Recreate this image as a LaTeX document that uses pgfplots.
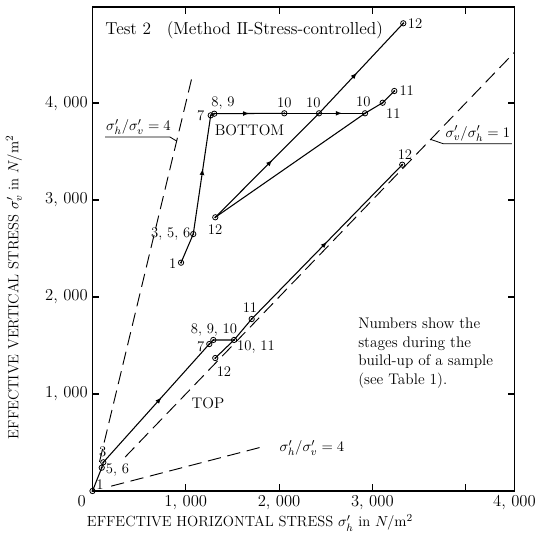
\documentclass[border=0pt]{standalone}
\usepackage{pgfplots}
\pgfplotsset{compat=1.18}
\usetikzlibrary{decorations.markings}

\tikzset{
  midarrow/.style={postaction={decorate},
    decoration={markings, mark=at position #1 with {\arrow[scale=0.9]{latex}}}},
  midarrow/.default=0.5,
  dashlong/.style={line width=0.7pt, dash pattern=on 10pt off 5pt},
}
\newcommand{\lab}{\fontsize{11}{13}\selectfont}

\begin{document}
\begin{tikzpicture}
\useasboundingbox (-69.375pt,-35.25pt) rectangle (343.875pt,368.25pt);
\begin{axis}[
  scale only axis,
  width=316.5pt, height=363pt,
  xmin=0, xmax=4523, ymin=0, ymax=4990,
  clip=false,
  axis line style={line width=1.2pt},
  tick pos=both,
  tick align=inside,
  major tick length=5pt,
  every tick/.style={black, line width=0.8pt},
  xtick={1000,2000,3000,4000},
  xticklabels={{1, 000},{2, 000},{3, 000},{}},
  ytick={1000,2000,3000,4000},
  yticklabels={{1, 000},{2, 000},{3, 000},{4, 000}},
  tick label style={font=\fontsize{12.5}{14}\selectfont},
]
% reference lines
\addplot[black, dashlong] coordinates {(350,350) (4523,4523)};
\addplot[black, dashlong] coordinates {(75,300) (1070,4280)};
\addplot[black, dashlong] coordinates {(200,50) (1800,450)};
% leaders of the ratio labels
\addplot[black, line width=0.6pt] coordinates {(134,3649) (831,3649) (902,3608)};
\addplot[black, line width=0.6pt] coordinates {(3625,3625) (3760,3580) (4496,3580)};

% BOTTOM
\addplot[black, line width=0.8pt] coordinates {(949,2354) (1080,2649)};
\addplot[black, line width=0.8pt, midarrow=0.55] coordinates {(1080,2649) (1267,3873)};
\addplot[black, line width=0.8pt] coordinates {(1267,3873) (1305,3890)};
\addplot[black, line width=0.8pt, midarrow=0.5] coordinates {(1305,3890) (2056,3894)};
\addplot[black, line width=0.8pt] coordinates {(2056,3894) (2428,3894)};
\addplot[black, line width=0.8pt, midarrow=0.5] coordinates {(2428,3894) (2921,3894)};
\addplot[black, line width=0.8pt] coordinates {(2921,3894) (3110,4003) (3235,4124)};
\addplot[black, line width=0.8pt] coordinates {(1316,2822) (2921,3894)};
\addplot[black, line width=0.8pt, midarrow=0.55] coordinates {(1316,2822) (2428,3894)};
\addplot[black, line width=0.8pt, midarrow=0.45] coordinates {(2428,3894) (3331,4822)};

% TOP
\addplot[black, line width=0.8pt] coordinates {(0,0) (99,240) (116,296)};
\addplot[black, line width=0.8pt, midarrow=0.55] coordinates {(116,296) (1252,1515)};
\addplot[black, line width=0.8pt] coordinates {(1252,1515) (1295,1557) (1517,1557) (1706,1773)};
\addplot[black, line width=0.8pt, midarrow=0.5] coordinates {(1706,1773) (3320,3364)};
\addplot[black, line width=0.8pt] coordinates {(1316,1371) (1517,1557)};

% stage points
\addplot[only marks, mark=o, mark size=2pt, mark options={black, line width=0.6pt, fill=white}] coordinates {
(949,2354) (1080,2649) (1267,3873) (1305,3890) (2056,3894) (2428,3894) (2921,3894)
(3110,4003) (3235,4124) (3331,4822) (1316,2822)
(0,0) (99,240) (116,296) (1252,1515) (1295,1557) (1517,1557) (1706,1773) (1316,1371) (3320,3364)
};
\addplot[only marks, mark=*, mark size=0.5pt, black] coordinates {
(949,2354) (1080,2649) (1267,3873) (1305,3890) (2056,3894) (2428,3894) (2921,3894)
(3110,4003) (3235,4124) (3331,4822) (1316,2822)
(0,0) (99,240) (116,296) (1252,1515) (1295,1557) (1517,1557) (1706,1773) (1316,1371) (3320,3364)
};

% stage numbers, BOTTOM
\node[font=\lab] at (axis cs:860,2347) {1};
\node[font=\lab] at (axis cs:839,2649) {3, 5, 6};
\node[font=\lab] at (axis cs:1160,3866) {7};
\node[font=\lab] at (axis cs:1399,4003) {8, 9};
\node[font=\lab] at (axis cs:2056,4000) {10};
\node[font=\lab] at (axis cs:2367,4000) {10};
\node[font=\lab] at (axis cs:2902,4013) {10};
\node[font=\lab] at (axis cs:3224,3894) {11};
\node[font=\lab] at (axis cs:3368,4124) {11};
\node[font=\lab] at (axis cs:3457,4814) {12};
\node[font=\lab] at (axis cs:1313,2691) {12};
\node[font=\fontsize{11.5}{13}\selectfont] at (axis cs:1683,3722) {BOTTOM};
% stage numbers, TOP
\node[font=\lab] at (axis cs:80,62) {1};
\node[font=\lab] at (axis cs:268,216) {5, 6};
\node[font=\lab] at (axis cs:109,405) {3};
\node[font=\lab] at (axis cs:1160,1488) {7};
\node[font=\lab] at (axis cs:1302,1660) {8, 9, 10};
\node[font=\lab] at (axis cs:1752,1485) {10, 11};
\node[font=\lab] at (axis cs:1688,1887) {11};
\node[font=\lab] at (axis cs:1409,1227) {12};
\node[font=\lab] at (axis cs:3349,3464) {12};
\node[font=\fontsize{11.5}{13}\selectfont] at (axis cs:1238,907) {TOP};

% ratio labels
\node[font=\lab, anchor=south, inner sep=1.5pt] at (axis cs:493,3649) {$\sigma'_h/\sigma'_v=4$};
\node[font=\lab, anchor=south, inner sep=1.5pt] at (axis cs:4130,3580) {$\sigma'_v/\sigma'_h=1$};
\node[font=\lab, anchor=west] at (axis cs:1956,443) {$\sigma'_h/\sigma'_v=4$};

% title and note
\node[anchor=west, font=\fontsize{13}{15}\selectfont] at (axis cs:88,4753)
  {Test 2\hspace{0.9em}(Method I\kern-0.4pt I-Stress-controlled)};
\node[anchor=north west, align=left, inner sep=0pt, font=\fontsize{11.5}{13.9}\selectfont]
  at (axis cs:2846,1784) {Numbers show the\\stages during the\\build-up of a sample\\(see Table 1).};

% origin, right-hand tick label and axis titles
\node[anchor=north, xshift=-8pt, font=\fontsize{12.5}{14}\selectfont] at (axis cs:0,0) {0};
\node[anchor=north, font=\fontsize{12.5}{14}\selectfont] at (axis cs:4523,0) {4, 000};
\node[anchor=base, yshift=-27pt, font=\fontsize{11}{13}\selectfont] at (axis cs:1688,0)
  {EFFECTIVE HORIZONTAL STRESS $\sigma'_h$ in $N/\mathrm{m}^2$};
\node[rotate=90, font=\fontsize{11}{13}\selectfont] at (axis cs:-841,2100)
  {EFFECTIVE VERTICAL STRESS $\sigma'_v$ in $N/\mathrm{m}^2$};
\end{axis}
\end{tikzpicture}
\end{document}
